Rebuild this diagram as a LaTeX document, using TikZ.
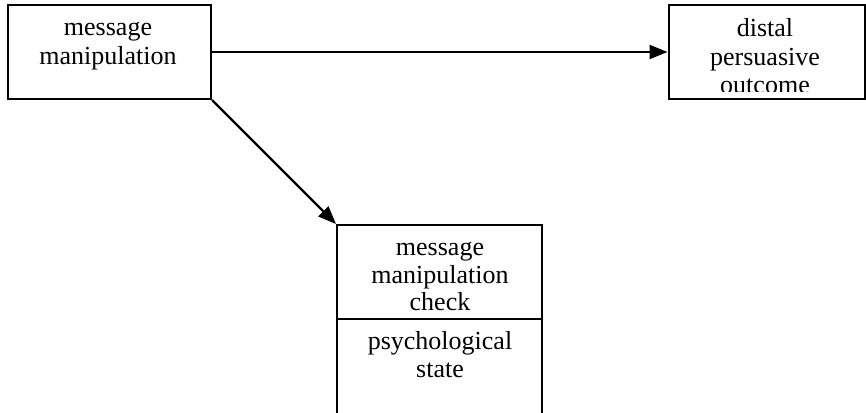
\documentclass[tikz,border=0pt]{standalone}
\usepackage{fontspec}
\setmainfont{Liberation Serif}
\usetikzlibrary{arrows.meta}
\begin{document}
\begin{tikzpicture}[x=1pt,y=-1pt,
  box/.style={draw=black,line width=2pt,inner sep=0pt,rectangle},
  txt/.style={font=\fontsize{26}{28}\selectfont,inner sep=0pt,anchor=base},
  conn/.style={draw=black,line width=2.2pt,-{Triangle[length=18pt,width=14pt]}}]
\useasboundingbox (0,0) rectangle (866,412);
\clip (0,0) rectangle (866,412);
% boxes
\node[box,minimum width=203pt,minimum height=94pt] (b1) at (109.5,52) {};
\node[box,minimum width=196pt,minimum height=94pt] (b2) at (766.5,52) {};
\node[box,minimum width=205pt,minimum height=94pt] (b3top) at (439.5,272) {};
\node[box,minimum width=205pt,minimum height=130pt] (b3bot) at (439.5,384) {};
% texts
\node[txt] (t1a) at (108,36) {message};
\node[txt] (t1b) at (108,64) {manipulation};
\node[txt] (t2a) at (765,37) {distal};
\node[txt] (t2b) at (765,65) {persuasive};
\begin{scope}
\clip (669,5) rectangle (866,91);
\node[txt] (t2c) at (765,93) {outcome};
\end{scope}
\node[txt] (t3a) at (440,255) {message};
\node[txt] (t3b) at (440,283) {manipulation};
\node[txt] (t3c) at (440,310) {check};
\node[txt] (t3d) at (440,349) {psychological};
\node[txt] (t3e) at (440,377) {state};
% connectors
\draw[conn] (b1.east) -- (b2.west);
\draw[conn] (b1.south east) -- (b3top.north west);
\end{tikzpicture}
\end{document}
